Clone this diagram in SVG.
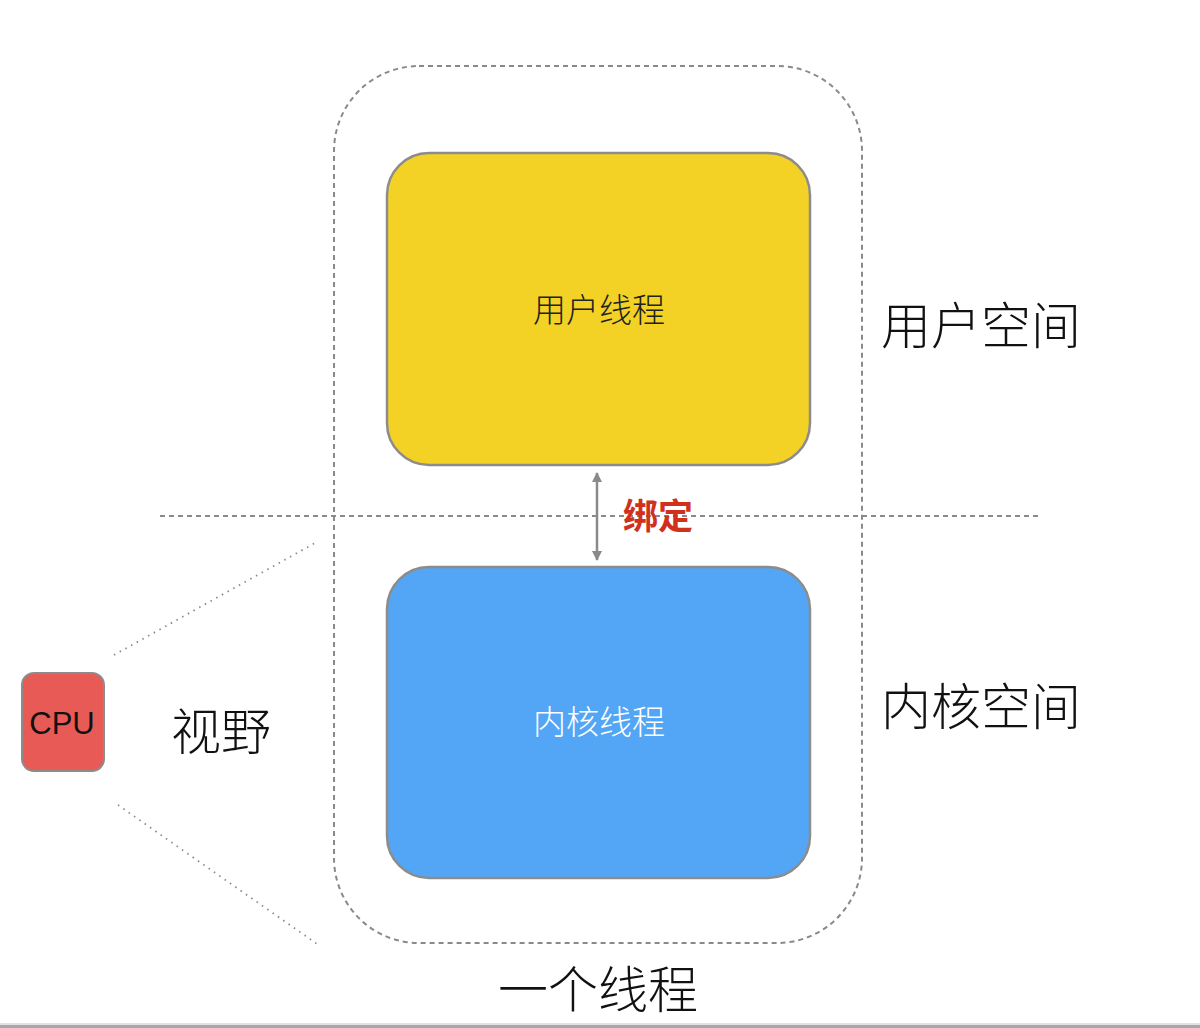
<svg xmlns="http://www.w3.org/2000/svg" width="1200" height="1028" viewBox="0 0 1200 1028">
<defs>
<style>
.cjk{font-family:"Noto Sans CJK SC","Liberation Sans",sans-serif;}
.big{font-size:50px;fill:#111;text-anchor:middle;font-weight:300;}
.mid{font-size:33px;text-anchor:middle;font-weight:300;}
.box{stroke:#8c8c8c;stroke-width:2.5;}
.dash{fill:none;stroke:#8a8a8a;stroke-width:2;stroke-dasharray:5 4;}
.dot{fill:none;stroke:#8a8a8a;stroke-width:1.8;stroke-dasharray:1.5 5;}
</style>
<marker id="ah" viewBox="0 0 10 10" refX="9" refY="5" markerWidth="4" markerHeight="4" orient="auto-start-reverse">
<path d="M0,0 L10,5 L0,10 z" fill="#8a8a8a"/>
</marker>
</defs>
<rect width="1200" height="1028" fill="#ffffff"/>
<g id="container">
<rect x="334" y="66" width="528" height="877" rx="85" ry="85" class="dash"/>
</g>
<g id="divider">
<line x1="160" y1="516" x2="1040" y2="516" class="dash"/>
</g>
<g id="user-thread">
<rect x="387" y="153" width="423" height="312" rx="42" ry="42" fill="#f4d225" class="box"/>
<text x="599" y="322" class="cjk mid" fill="#222">用户线程</text>
</g>
<g id="kernel-thread">
<rect x="387" y="567" width="423" height="311" rx="42" ry="42" fill="#52a6f5" class="box"/>
<text x="599" y="734" class="cjk mid" fill="#ffffff">内核线程</text>
</g>
<g id="cpu">
<rect x="22" y="673" width="82" height="98" rx="12" ry="12" fill="#e85a55" stroke="#8c8c8c" stroke-width="2"/>
<text x="62" y="734" font-family="Liberation Sans, Arial, sans-serif" font-size="31" fill="#111" text-anchor="middle">CPU</text>
</g>
<g id="connectors">
<line x1="597" y1="473" x2="597" y2="560" stroke="#8a8a8a" stroke-width="2.5" marker-start="url(#ah)" marker-end="url(#ah)"/>
<line x1="114" y1="655" x2="315" y2="543" class="dot"/>
<line x1="118" y1="805" x2="320" y2="946" class="dot"/>
</g>
<g id="labels">
<text x="658" y="529" class="cjk" font-size="35" font-weight="700" fill="#d0301c" text-anchor="middle">绑定</text>
<text x="981" y="344" class="cjk big">用户空间</text>
<text x="981" y="725" class="cjk big">内核空间</text>
<text x="221" y="750" class="cjk big">视野</text>
<text x="598" y="1008" class="cjk big">一个线程</text>
</g>
<g id="bottom-bar">
<rect x="0" y="1023" width="1200" height="5" fill="#e2e2e6"/>
<rect x="0" y="1025" width="1200" height="3" fill="#a8a8ac"/>
</g>
</svg>
